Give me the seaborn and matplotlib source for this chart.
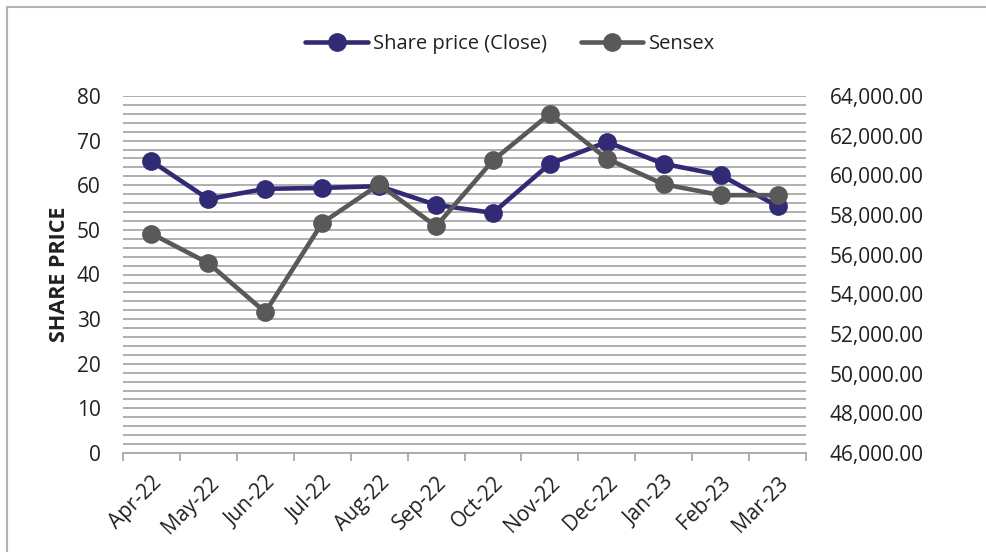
import numpy as np
import pandas as pd
import seaborn as sns
import matplotlib.pyplot as plt
from matplotlib.lines import Line2D
import matplotlib.ticker as mticker

months = ["Apr-22", "May-22", "Jun-22", "Jul-22", "Aug-22", "Sep-22",
          "Oct-22", "Nov-22", "Dec-22", "Jan-23", "Feb-23", "Mar-23"]
share_price = [65.4, 56.9, 59.2, 59.4, 59.8, 55.6, 53.8, 64.8, 69.7, 64.8, 62.3, 55.3]
sensex = [57060, 55570, 53100, 57600, 59540, 57430, 60750, 63100, 60840, 59550, 59000, 59000]
left_ticks = [0, 10, 20, 30, 40, 50, 60, 70, 80]
right_ticks = [46000, 48000, 50000, 52000, 54000, 56000, 58000, 60000, 62000, 64000]

sns.set_theme(style="white")
plt.rcParams["font.family"] = ["Open Sans", "DejaVu Sans"]

NAVY = "#312a74"
GRAY = "#595959"
GRID = "#a9a9a9"
TXT = "#231f20"
MS = 13.5
LW = 3.3

df = pd.DataFrame({"idx": np.arange(len(months)), "month": months,
                   "share": share_price, "sensex": sensex})

fig = plt.figure(figsize=(9.86, 5.52), dpi=100)
ax = fig.add_axes([123/986, 1-453/552, (806-123)/986, (453-96)/552])
ax2 = ax.twinx()

sns.lineplot(data=df, x="idx", y="share", ax=ax, color=NAVY, linewidth=LW,
             marker="o", markersize=MS, markeredgewidth=0, zorder=3)
sns.lineplot(data=df, x="idx", y="sensex", ax=ax2, color=GRAY, linewidth=LW,
             marker="o", markersize=MS, markeredgewidth=0, zorder=3)

ax.set_xlim(-0.5, len(months) - 0.5)
ax.set_ylim(0, 80)
ax2.set_ylim(46000, 64000)

ax.set_yticks(left_ticks)
ax.set_yticks(np.arange(0, 81, 2), minor=True)
ax.yaxis.grid(True, which="both", color=GRID, linewidth=1.3)
ax.set_axisbelow(True)
ax.tick_params(axis="y", which="both", length=0, labelsize=15, labelcolor=TXT, pad=16)

ax2.set_yticks(right_ticks)
ax2.yaxis.set_major_formatter(mticker.FuncFormatter(lambda v, p: f"{v:,.2f}"))
ax2.tick_params(axis="y", length=0, labelsize=15, labelcolor=TXT, pad=17)

ax.set_xticks(df["idx"])
ax.set_xticklabels(months, rotation=45, ha="right", rotation_mode="anchor")
ax.set_xticks(np.arange(-0.5, len(months), 1), minor=True)
ax.tick_params(axis="x", which="major", length=0, labelsize=15, labelcolor=TXT, pad=14)
ax.tick_params(axis="x", which="minor", length=6, width=1.3, color=GRID, direction="out")
ax.xaxis.set_ticks_position("bottom")
ax.xaxis.set_tick_params(which="minor", bottom=True)

for a in (ax, ax2):
    for s in ["top", "left", "right"]:
        a.spines[s].set_visible(False)
    a.spines["bottom"].set_visible(a is ax)
    a.set_xlabel("")
    a.set_ylabel("")
ax.spines["bottom"].set_color(GRID)
ax.spines["bottom"].set_linewidth(1.3)

ax.set_ylabel("SHARE PRICE", fontsize=15.5, fontweight="bold", color=TXT, labelpad=5)

handles = [Line2D([], [], color=NAVY, lw=LW, marker="o", markersize=MS, markeredgewidth=0),
           Line2D([], [], color=GRAY, lw=LW, marker="o", markersize=MS, markeredgewidth=0)]
fig.legend(handles, ["Share price (Close)", "Sensex"], loc="center", ncol=2,
           bbox_to_anchor=(510/986, 1-44/552), frameon=False, fontsize=14.5,
           handlelength=3.1, columnspacing=1.7, handletextpad=0.25, labelcolor=TXT)

# figure border (top and left)
fig.add_artist(Line2D([7/986, 1], [1-7/552, 1-7/552], transform=fig.transFigure,
                      color="#b3b3b3", linewidth=1.5))
fig.add_artist(Line2D([7/986, 7/986], [0, 1-7/552], transform=fig.transFigure,
                      color="#b3b3b3", linewidth=1.5))

fig.savefig("out.png", dpi=100)
